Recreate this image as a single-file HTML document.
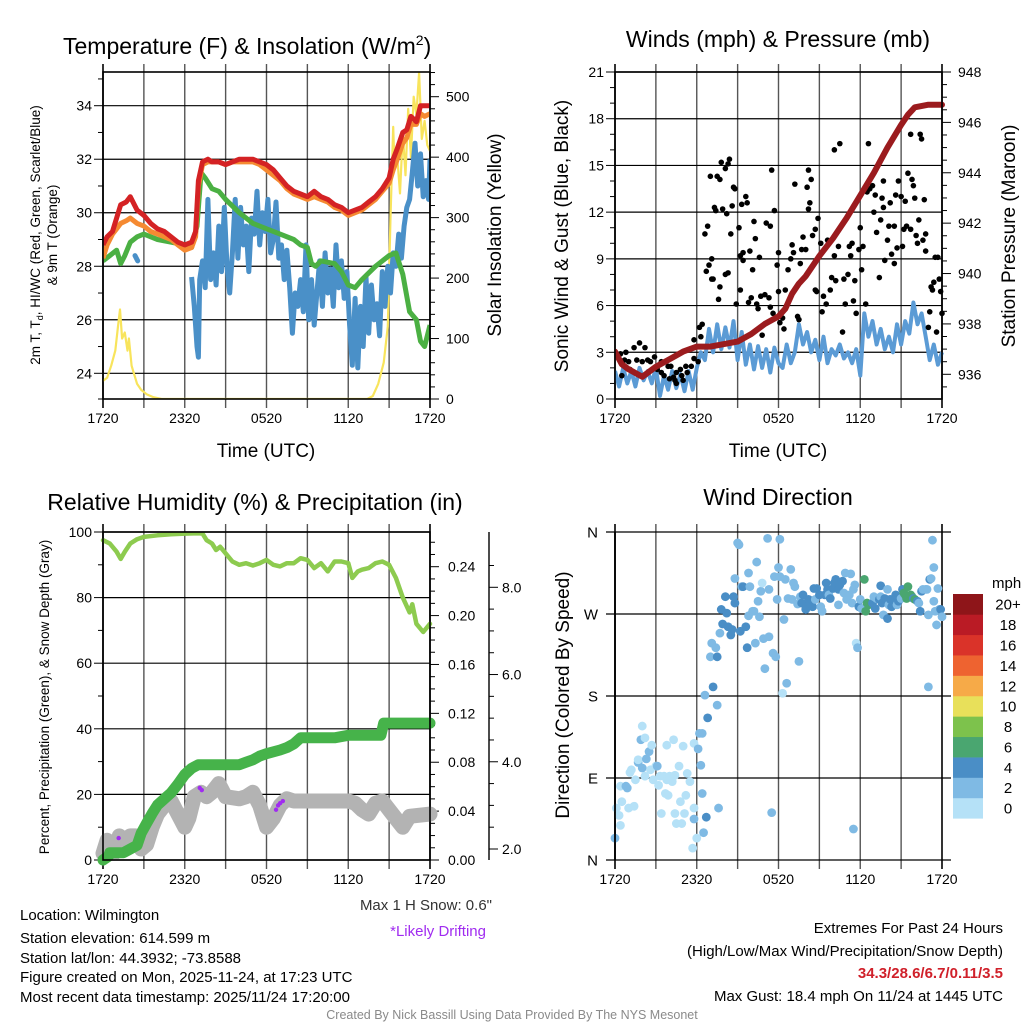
<!DOCTYPE html>
<html><head><meta charset="utf-8"><style>
html,body{margin:0;padding:0;background:#fff;}
svg{display:block;font-family:"Liberation Sans",Arial,sans-serif;}
</style></head><body>
<svg id="fig" width="1024" height="1024" viewBox="0 0 1024 1024" xmlns="http://www.w3.org/2000/svg">
<rect width="1024" height="1024" fill="#fff"/>
</svg>
<script>
// ---------- DATA ----------
const timeLabels = ["1720","2320","0520","1120","1720"];
// Panel 1
const tH = [0,0.3,0.7,1,1.3,1.7,2,2.5,3,3.5,4,4.5,5,5.5,6,6.5,6.8,7,7.3,7.7,8,8.5,9,9.5,10,10.5,11,11.5,12,12.5,13,13.5,14,14.5,15,15.5,16,16.5,17,17.5,18,18.5,19,19.5,20,20.5,21,21.3,21.6,22,22.3,22.6,23,23.3,23.6,24];
const tempRed = [28.8,29.1,29.3,29.8,30.3,30.4,30.6,30.1,29.9,29.6,29.4,29.3,29.1,28.9,28.8,28.9,29.3,31.2,31.9,32,31.9,31.9,31.8,31.9,32,32,32,31.9,31.8,31.6,31.3,31,30.8,30.7,30.6,30.8,30.6,30.5,30.3,30.2,30.0,30.1,30.2,30.4,30.6,30.9,31.3,32.0,32.4,33.0,33.1,33.6,33.4,34.0,34.0,34.0];
const temp9m = [28.3,28.8,29.2,29.4,29.6,29.7,29.8,29.6,29.5,29.3,29.2,29.1,29.0,28.8,28.6,28.7,29.1,31.0,31.8,31.9,31.9,31.9,31.8,31.9,31.9,31.9,31.9,31.8,31.6,31.4,31.2,30.9,30.7,30.6,30.5,30.6,30.5,30.4,30.2,30.1,29.9,30.0,30.1,30.3,30.5,30.8,31.1,31.6,32.0,32.6,32.8,33.3,33.3,33.7,33.6,33.7];
const dewH = [0,0.5,1,1.3,1.6,2,2.5,3,3.5,4,5,6,6.5,6.9,7.2,7.5,8,8.5,9,10,11,12,13,14,14.5,15,15.3,15.6,16,17,17.5,18,18.5,19,20,21,21.5,22,22.5,23,23.3,23.6,24];
const dewG = [28.2,28.4,28.6,28.1,28.4,28.9,29.1,29.2,29.1,29.0,28.9,28.8,28.7,29.5,31.5,31.3,30.9,30.8,30.5,30.0,29.6,29.4,29.2,29.0,28.8,28.7,28.1,28.0,28.2,28.1,27.8,27.3,27.2,27.5,28.0,28.4,28.5,27.7,26.3,26.0,25.2,25.0,25.8];
const wcH = [6.5,6.7,6.9,7.0,7.1,7.3,7.5,7.7,7.9,8.1,8.3,8.5,8.7,8.9,9.1,9.3,9.5,9.7,9.9,10.1,10.3,10.5,10.7,10.9,11.1,11.3,11.5,11.7,11.9,12.1,12.3,12.5,12.7,12.9,13.1,13.3,13.5,13.7,13.9,14.1,14.3,14.5,14.7,14.9,15.1,15.3,15.5,15.7,15.9,16.1,16.3,16.5,16.7,16.9,17.1,17.3,17.5,17.7,17.9,18.1,18.3,18.5,18.7,18.9,19.1,19.3,19.5,19.7,19.9,20.1,20.3,20.5,20.7,20.9,21.1,21.3,21.5,21.7,21.9,22.1,22.3,22.5,22.7,22.9,23.1,23.3,23.5,23.7,23.9,24];
const wcB = [27.6,26.5,25.0,24.6,27.5,28.2,27.2,30.5,27.5,28.5,27.3,29.5,27.8,30.2,28.0,27.0,28.5,30.5,28.3,30.2,28.8,29.5,27.8,29.8,29.2,30.8,28.8,30.0,29.3,30.5,28.5,29.0,30.4,28.3,28.8,27.5,28.6,27.2,25.5,27.0,26.5,27.5,26.3,28.8,26.0,27.5,25.8,27.0,28.2,26.5,28.5,27.0,27.9,26.5,28.8,27.2,28.2,26.8,27.8,25.8,24.3,26.8,24.2,26.5,25.0,27.6,25.5,27.3,26.0,26.6,25.4,27.8,26.5,28.0,27.0,28.5,28.0,29.2,28.3,29.5,30.2,30.5,31.5,32.6,31.0,32.2,30.6,31.2,30.5,32.0];
const wcEarlyH = [2.35,2.55];
const wcEarlyB = [28.4,28.2];
const solH = [0,0.3,0.6,0.9,1.1,1.25,1.4,1.6,1.8,1.9,2.1,2.3,2.5,2.8,3.2,3.7,4.3,5,19.4,19.8,20.2,20.6,20.9,21.1,21.3,21.4,21.6,21.8,22.0,22.2,22.4,22.6,22.8,23.0,23.2,23.4,23.6,23.8,24];
const solV = [30,35,55,80,120,148,100,110,80,100,55,40,25,15,8,3,0,0,0,5,25,60,120,300,450,380,400,340,440,370,480,400,500,470,540,430,460,420,410];
// Panel 2
const presH = [0,0.5,1,2,3,4,5,6,7,8,9,10,11,12,12.5,13,13.5,14,15,16,17,18,19,20,21,21.5,22,23,24];
const presV = [936.9,936.4,936.2,935.9,936.3,936.6,936.9,937.1,937.1,937.2,937.3,937.6,938.0,938.3,938.6,939.2,939.6,939.9,940.7,941.4,942.2,943.1,944.0,945.0,945.9,946.3,946.6,946.7,946.7];
const windH = [0,0.3,0.6,0.9,1.2,1.5,1.8,2.1,2.4,2.7,3,3.3,3.6,3.9,4.2,4.5,4.8,5.1,5.4,5.7,6,6.3,6.6,6.9,7.2,7.5,7.8,8.1,8.4,8.7,9,9.3,9.6,9.9,10.2,10.5,10.8,11.1,11.4,11.7,12,12.3,12.6,12.9,13.2,13.5,13.8,14.1,14.4,14.7,15,15.3,15.6,15.9,16.2,16.5,16.8,17.1,17.4,17.7,18,18.3,18.6,18.9,19.2,19.5,19.8,20.1,20.4,20.7,21,21.3,21.6,21.9,22.2,22.5,22.8,23.1,23.4,23.7,24];
const windV = [1.8,0.8,2.0,1.0,1.8,0.8,2.0,1.2,1.8,1.0,2.0,0.2,1.5,0.6,1.8,0.7,1.6,0.5,1.8,0.6,2.0,3.0,2.5,4.5,3.0,4.8,3.2,4.6,3.3,5.0,2.5,4.3,2.2,3.5,1.9,3.4,2.0,3.2,1.7,3.3,2.3,2.0,3.5,2.3,3.0,4.8,3.5,4.3,3.0,3.8,2.5,4.0,2.3,3.2,2.8,3.5,2.6,3.0,2.3,3.2,1.5,5.5,4.0,5.0,3.5,4.5,3.2,4.0,3.0,4.8,3.5,5.0,4.2,6.2,4.8,5.5,4.0,2.5,3.5,2.2,3.0];
const gustH = [0,0.4,0.5,0.8,1.0,1.4,1.8,1.6,2.0,2.2,2.4,2.6,2.9,3.1,3.4,3.6,3.9,4.0,4.3,4.4,4.5,4.8,4.9,5.2,5.3,5.6,5.8,5.8,6.1,6.2,6.3,6.4,0.7,1.1,0.5,3.4,4.5,5.0,4.1,
6.6,6.8,6.7,6.9,7.1,7.0,7.1,7.2,7.3,7.4,7.5,7.6,7.7,7.7,7.8,7.9,8.1,8.2,8.3,8.4,8.1,8.3,8.5,8.6,8.7,8.8,8.9,9.1,9.2,9.2,9.3,9.4,9.4,9.6,9.7,9.8,9.9,10,10.1,10.2,10.3,10.4,10.5,10.6,10.7,10.8,11,11.1,11.3,11.4,11.4,11.5,11.6,11.7,11.9,12,12,12.1,12.3,12.4,12.5,12.7,12.9,13,13.1,13.2,13.4,13.5,13.6,13.7,13.8,14,14.1,14.2,14.2,14.3,14.4,14.5,14.7,14.7,14.8,14.9,15.1,15.2,15.3,15.5,15.6,15.8,15.9,16.1,16.1,16.2,16.4,16.5,16.7,16.8,16.9,17.1,17.2,17.3,17.4,17.5,17.6,17.7,17.9,18,18.1,18.2,18.4,18.5,18.6,18.7,18.9,19,19.1,19.2,19.4,19.5,19.6,19.7,19.7,19.8,20,20.1,20.2,20.3,20.5,20.5,20.6,20.7,20.8,21,21.1,21.2,21.3,21.4,21.5,21.7,21.7,21.8,21.9,22,22.1,22.2,22.3,22.4,22.5,22.6,22.7,22.8,22.8,23,23.1,23.2,23.3,23.4,23.5,23.6,23.7,23.8,23.9,24];
const gustV = [3.0,2.9,2.3,3.0,2.4,3.3,3.6,2.5,2.4,3.3,2.5,2.4,2.7,1.9,1.7,1.5,2.1,1.3,1.4,1.2,1.7,1.9,1.5,2.1,1.7,2.1,2.6,3.8,2.4,4.6,4.0,4.8,2.5,1.9,1.5,2.4,1.0,1.2,2.1,
10.6,11.1,8.2,8.6,9.0,14.3,7.7,7.7,12.3,12.1,14.3,6.4,7.2,14.1,15.2,12.2,14.8,11.9,15.1,15.4,8.0,8.1,10.6,12.4,13.6,13.5,6.1,11.0,9.2,7.0,12.5,8.9,9.4,13.0,12.6,6.2,9.5,6.5,8.3,11.4,10.3,6.1,5.8,9.1,6.6,4.1,6.7,11.3,6.5,11.1,5.9,14.7,5.5,12.1,8.6,9.4,6.9,4.9,5.2,4.5,7.0,8.3,9.0,9.9,9.4,13.8,5.3,5.1,8.7,9.6,10.4,9.6,13.6,12.2,14.7,12.6,14.1,10.5,10.9,7.0,6.9,11.6,10.0,5.6,6.6,6.1,10.2,7.0,7.8,16.0,9.2,7.6,9.8,16.4,4.3,7.7,6.1,8.0,9.8,9.2,10.0,6.3,7.6,5.5,9.6,11.0,8.3,9.8,6.1,13.3,16.4,13.5,13.7,12.0,13.1,10.7,7.8,11.5,12.9,12.3,14.0,8.9,10.2,11.1,12.6,9.3,8.7,11.1,13.1,9.7,14.0,13.0,9.8,10.9,12.7,11.1,14.5,10.9,17.0,14.1,13.7,12.9,10.5,10.0,11.5,17.0,16.7,10.2,12.8,10.6,9.5,4.6,5.6,7.2,7.0,7.5,9.1,4.3,9.1,7.7,6.9,5.5];
// Panel 3
const rhH = [0,0.5,1,1.3,1.6,2,2.5,3,4,5,6,7,7.3,7.6,8,8.3,8.6,9,9.5,10,10.5,11,11.5,12,12.5,13,13.5,14,14.5,15,15.5,16,16.5,17,17.5,18,18.3,18.7,19,19.5,20,20.5,21,21.5,22,22.5,22.7,23,23.5,24];
const rhV = [97.5,96.5,94,91.8,94,96.5,97.8,98.5,99,99.3,99.5,99.6,99.5,97.5,96.5,94.5,95.5,93.5,91,90,90.5,89.8,90.5,91.5,90,89.5,90.5,90.5,92,91.5,89,90.5,88,91,91,90.5,86,88,88.5,89,90.5,91,90,86,80,75.5,78,72,69.5,72];
const prH = [0,0.4,0.5,1.5,2,2.5,2.8,3.2,3.6,4,4.5,5,5.5,6,6.5,7,9,10,10.5,11,11.5,12,13,13.5,14,14.5,15,17,17.5,18,20.4,20.6,24];
const prV = [0,0.003,0.006,0.006,0.009,0.012,0.022,0.03,0.038,0.045,0.05,0.055,0.062,0.07,0.075,0.078,0.078,0.078,0.080,0.082,0.085,0.087,0.090,0.092,0.095,0.100,0.100,0.100,0.101,0.102,0.102,0.112,0.112];
const snH = [0,0.3,0.8,1.2,1.6,2,2.4,2.8,3.2,3.6,4,4.5,5,5.5,6,6.3,6.7,7.2,7.6,8,8.5,9,10,10.5,11,11.5,12,12.5,13,13.5,14,18,18.5,19,19.5,20,20.5,21,21.5,22,22.5,24];
const snV = [1.9,2.2,1.9,2.3,2.2,2.3,2.3,2.0,2.1,2.5,2.8,3.0,3.1,2.8,2.5,2.7,3.2,3.3,3.2,3.3,3.5,3.2,3.15,3.2,3.3,3.0,2.5,2.7,3.0,3.15,3.1,3.1,3.05,2.9,2.8,3.05,3.1,2.9,2.7,2.5,2.75,2.8];
const driftH = [1.15,7.1,7.25,12.7,12.85,13.0,13.2];
const driftV = [2.25,3.4,3.35,2.9,3.0,3.05,3.1];
// Panel 4
const dirH = [0,0.1,0.3,0.4,0.5,0.4,0.8,0.9,1.0,1.1,1.2,1.4,1.5,1.7,1.7,1.9,2.0,2.0,2.2,2.2,2.3,2.5,2.6,2.7,2.8,3.0,3.1,3.2,3.3,3.4,3.6,3.7,3.8,3.8,3.9,4.0,4.2,4.3,4.4,4.4,4.5,4.7,4.8,4.9,5.0,5.1,5.2,5.3,5.5,5.7,5.8,5.8,5.8,6.0,6.1,6.2,6.3,6.4,6.4,6.5,6.6,6.7,6.8,7.0,7.1,7.2,7.4,7.5,7.5,7.6,7.7,7.8,7.9,8.1,8.2,8.3,8.5,8.6,8.7,8.8,8.8,9.0,9.1,9.2,9.3,9.4,9.6,9.7,9.8,9.8,9.9,10.1,10.2,10.3,10.4,10.5,10.6,10.7,10.8,10.9,11.0,11.2,11.3,11.3,11.5,11.6,11.7,11.8,11.9,12.0,12.1,12.1,12.3,12.4,12.5,12.6,12.7,12.9,13.0,13.1,13.2,13.4,13.5,13.6,13.7,13.8,14.0,14.1,14.2,14.3,14.5,14.6,14.7,14.8,15.0,15.1,15.2,15.4,15.5,15.6,15.7,15.8,16.0,16.1,16.2,16.4,16.4,16.5,16.7,16.8,16.9,17.0,17.2,17.3,17.4,17.5,17.6,17.7,17.8,17.5,17.9,18.0,18.1,18.3,18.4,18.5,18.6,18.9,19.0,19.1,19.2,19.4,19.5,19.5,19.6,19.7,19.8,20.0,20.0,20.1,20.2,20.3,20.5,20.6,20.7,20.8,21.0,21.1,21.2,21.3,21.4,21.5,21.7,21.8,21.9,22.0,22.2,22.3,22.4,22.5,22.6,22.8,22.9,23.0,23.0,23.1,23.2,23.3,23.4,23.4,23.5,23.6,23.7,23.8,23.9,24];
const dirDeg = [24,57,49,81,64,38,81,79,57,96,99,59,88,107,110,132,147,101,134,92,111,119,99,126,88,103,103,82,92,51,92,73,126,88,71,92,86,132,51,93,40,103,64,40,125,51,71,95,86,13,57,45,128,24,122,139,104,139,73,30,181,47,156,223,238,190,233,223,170,57,249,275,259,289,271,256,247,253,289,282,309,348,346,251,300,300,256,233,268,315,300,273,273,238,327,284,267,295,304,243,210,353,297,245,52,227,311,223,286,321,352,311,183,264,308,194,287,319,286,304,300,281,218,289,282,291,275,278,286,282,278,298,286,298,291,278,273,291,304,297,291,287,298,304,308,280,297,302,306,293,315,286,291,314,282,297,302,238,233,34,278,286,276,308,273,282,280,282,289,276,287,286,289,301,282,269,287,297,265,280,286,278,287,291,280,284,287,297,293,291,287,300,291,289,287,286,284,282,273,295,297,297,297,269,190,308,309,351,284,321,273,258,298,275,275,267];
const dirSpd = [3,1,1,1,1,1,3,3,1,1,1,1,1,3,1,3,1,3,1,1,3,3,1,1,1,1,3,1,1,1,1,1,1,1,1,1,1,1,1,1,1,1,1,1,1,1,1,1,1,1,1,3,1,1,3,3,3,3,3,3,3,5,5,3,3,5,3,5,3,3,3,5,5,5,5,5,5,5,5,5,3,3,3,5,3,5,5,5,3,3,3,3,3,3,3,3,3,3,1,3,3,3,3,3,3,3,3,3,3,3,3,3,1,3,3,3,3,3,3,3,3,3,3,3,5,5,5,5,5,5,5,5,3,5,5,3,3,5,5,5,3,5,5,5,5,3,5,5,5,3,3,3,3,3,3,3,3,1,3,3,5,3,3,7,7,7,7,5,3,5,3,5,3,5,5,3,5,3,5,3,5,5,5,5,3,5,3,5,7,7,7,7,7,7,5,7,5,3,5,5,3,3,3,3,3,5,3,3,3,3,3,3,3,3,5,3,3,3,3,5,3,3,3,3];
const cbLabels = ["0","2","4","6","8","10","12","14","16","18","20+"];
const cbColors = ["#b5e1f7","#7fbae4","#4a8ec6","#4aa670","#7dc24c","#e8e05a","#f6aa48","#ee6330","#da3329","#ba1b25","#8e1519"];

// ---------- HELPERS ----------
const NS="http://www.w3.org/2000/svg";
const svg=document.getElementById('fig');
function el(tag,attrs,parent){const e=document.createElementNS(NS,tag);for(const k in attrs)e.setAttribute(k,attrs[k]);(parent||svg).appendChild(e);return e;}
function txt(s,x,y,size,anchor,parent,extra){const t=el('text',Object.assign({x:x,y:y,'font-size':size,'text-anchor':anchor||'start',fill:'#000'},extra||{}),parent);t.textContent=s;return t;}
function lin(d0,d1,p0,p1){return v=>p0+(v-d0)/(d1-d0)*(p1-p0);}
function pathD(xs,ys,fx,fy){let d='';for(let i=0;i<xs.length;i++){d+=(i?'L':'M')+fx(xs[i]).toFixed(1)+','+fy(ys[i]).toFixed(1);}return d;}

const L=103,R=430,T=72,B=399;
const L2=615,R2=942;
const T3=532,B3=860;

function timeAxis(g,x0,x1,yTop,yBot,name){
  const fx=lin(0,24,x0,x1);
  for(let h=0;h<=24;h+=3){
    const x=fx(h);
    const gl=el('line',{x1:x,x2:x,y1:yTop-8,y2:yBot+9,stroke:(h===0||h===24)?'#000':'#555','stroke-width':(h===0||h===24)?1.6:1.4},g);
    
    
  }
  for(let i=0;i<timeLabels.length;i++){
    const t=txt(timeLabels[i],fx(i*6),yBot+24,14,'middle',g);
    
    
  }
  return fx;
}
function yTicks(g,x,fy,d0,d1,major,minor,side,fmt,labelX,grid,gx0,gx1,name){
  const n=Math.round((d1-d0)/minor);
  for(let k=0;k<=n;k++){
    const v=d0+k*minor;
    const isMaj=Math.abs(v/major-Math.round(v/major))<1e-6;
    const len=isMaj?9:5;
    el('line',{x1:x,x2:side==='l'?x-len:x+len,y1:fy(v),y2:fy(v),stroke:'#000','stroke-width':1},g);
    if(isMaj){
      if(grid) el('line',{x1:gx0,x2:gx1,y1:fy(v),y2:fy(v),stroke:'#000','stroke-width':1.2},g);
      const t=txt(fmt(v),labelX,fy(v)+5,14,side==='l'?'end':'start',g);
      
      
    }
  }
}
function rotText(s,x,y,size,g,name){
  const t=txt(s,x,y,size,'middle',g,{transform:'rotate(-90 '+x+' '+y+')'});
  
  
  return t;
}

// ---------- PANEL 1 ----------
(function(){
  const g=el('g',{});
  
  
  const fx=timeAxis(g,L,R,T,B,'temp');
  const fy=lin(24,34,373.3,105.7);
  const fs=lin(0,500,399,96.7);
  yTicks(g,L,fy,24,35,2,1,'l',v=>String(Math.round(v)),92,true,L,R,'temp-y');
  el('line',{x1:L,x2:L-5,y1:fy(23.04),y2:fy(23.04),stroke:'#000','stroke-width':1},g);
  yTicks(g,R,fs,0,540,100,20,'r',v=>String(Math.round(v)),446,false,0,0,'solar-y');
  const clip=el('clipPath',{id:'c1'},g);el('rect',{x:L,y:T,width:R-L,height:B-T},clip);
  const pg=el('g',{'clip-path':'url(#c1)'},g);
  const sol=el('path',{d:pathD(solH,solV,fx,fs),fill:'none',stroke:'#f8e45c','stroke-width':2.2,'stroke-linejoin':'round'},pg);
  
  
  const wc=el('path',{d:pathD(wcH,wcB,fx,fy),fill:'none',stroke:'#4a90c8','stroke-width':5,'stroke-linejoin':'round'},pg);
  
  
  const wce=el('path',{d:pathD(wcEarlyH,wcEarlyB,fx,fy),fill:'none',stroke:'#4a90c8','stroke-width':5,'stroke-linecap':'round'},pg);
  
  
  const dw=el('path',{d:pathD(dewH,dewG,fx,fy),fill:'none',stroke:'#4bb043','stroke-width':5,'stroke-linejoin':'round'},pg);
  
  
  const t9=el('path',{d:pathD(tH,temp9m,fx,fy),fill:'none',stroke:'#f58a32','stroke-width':5,'stroke-linejoin':'round'},pg);
  
  
  const t2=el('path',{d:pathD(tH,tempRed,fx,fy),fill:'none',stroke:'#d42224','stroke-width':5,'stroke-linejoin':'round'},pg);
  
  
  el('rect',{x:L,y:T,width:R-L,height:B-T,fill:'none',stroke:'#000','stroke-width':1.6},g);
  const title=txt('Temperature (F) & Insolation (W/m',63,54,23,'start',g);
  const sup=el('tspan',{dy:-9,'font-size':14},title);sup.textContent='2';
  const cl=el('tspan',{dy:9},title);cl.textContent=')';
  
  
  const xt=txt('Time (UTC)',266,457,19,'middle',g);
  
  
  const yl=txt('',40,235,13.5,'middle',g,{transform:'rotate(-90 40 235)'});
  yl.innerHTML='2m T, T<tspan font-size="9" dy="3">d</tspan><tspan dy="-3">, HI/WC (Red, Green, Scarlet/Blue)</tspan>';
  
  
  rotText('& 9m T (Orange)',57,235,13.5,g,'temp-y-axis-title-line2');
  rotText('Solar Insolation (Yellow)',501,235,19,g,'solar-y-axis-title');
})();

// ---------- PANEL 2 ----------
(function(){
  const g=el('g',{});
  
  
  const fx=timeAxis(g,L2,R2,T,B,'wind');
  const fy=lin(0,21,B,T);
  const fp=lin(936,948,374.3,T);
  yTicks(g,L2,fy,0,21,3,1,'l',v=>String(Math.round(v)),604,true,L2,R2,'wind-y');
  yTicks(g,R2,fp,935.5,948,2,0.5,'r',v=>String(Math.round(v)),958,false,0,0,'pressure-y');
  const clip=el('clipPath',{id:'c2'},g);el('rect',{x:L2,y:T-5,width:R2-L2+6,height:B-T+5},clip);
  const pg=el('g',{'clip-path':'url(#c2)'},g);
  const w=el('path',{d:pathD(windH,windV,fx,fy),fill:'none',stroke:'#5b9bd5','stroke-width':4,'stroke-linejoin':'round'},pg);
  
  
  for(let i=0;i<gustH.length;i++){
    const c=el('circle',{cx:fx(gustH[i]),cy:fy(gustV[i]),r:2.8,fill:'#000'},pg);
    
    
  }
  const p=el('path',{d:pathD(presH,presV,fx,fp),fill:'none',stroke:'#9b1b1e','stroke-width':6,'stroke-linejoin':'round','stroke-linecap':'round'},pg);
  
  
  el('rect',{x:L2,y:T,width:R2-L2,height:B-T,fill:'none',stroke:'#000','stroke-width':1.6},g);
  const title=txt('Winds (mph) & Pressure (mb)',778,47,23,'middle',g);
  
  
  const xt=txt('Time (UTC)',778,457,19,'middle',g);
  
  
  rotText('Sonic Wind & Gust (Blue, Black)',568,236,19,g,'wind-y-axis-title');
  rotText('Station Pressure (Maroon)',1015,236,19,g,'pressure-y-axis-title');
})();

// ---------- PANEL 3 ----------
(function(){
  const g=el('g',{});
  
  
  const fx=timeAxis(g,L,R,T3,B3,'rh');
  const fy=lin(0,100,B3,T3);
  const fpr=lin(0,0.24,B3,566.7);
  const fsn=lin(2,8,849,587.3);
  yTicks(g,L,fy,0,100,20,10,'l',v=>String(Math.round(v)),92,true,L,R,'rh-y');
  yTicks(g,R,fpr,0,0.26,0.04,0.01,'r',v=>v.toFixed(2),448,false,0,0,'precip-y');
  el('line',{x1:489,x2:489,y1:T3,y2:B3,stroke:'#000','stroke-width':1.4},g);
  yTicks(g,489,fsn,2,8.5,2,0.5,'r',v=>v.toFixed(1),502,false,0,0,'snow-y');
  const clip=el('clipPath',{id:'c3'},g);el('rect',{x:L-12,y:T3,width:R-L+24,height:B3-T3+12},clip);
  const pg=el('g',{'clip-path':'url(#c3)'},g);
  const sn=el('path',{d:pathD(snH,snV,fx,fsn),fill:'none',stroke:'#b3b3b3','stroke-width':15,'stroke-linejoin':'round','stroke-linecap':'round'},pg);
  
  
  for(let i=0;i<driftH.length;i++){
    const c=el('circle',{cx:fx(driftH[i]),cy:fsn(driftV[i]),r:2.2,fill:'#a02cf0'},pg);
    
    
  }
  const pr=el('path',{d:pathD(prH,prV,fx,fpr),fill:'none',stroke:'#46b34a','stroke-width':11,'stroke-linejoin':'round','stroke-linecap':'round'},pg);
  
  
  const rh=el('path',{d:pathD(rhH,rhV,fx,fy),fill:'none',stroke:'#8dcb4f','stroke-width':4.5,'stroke-linejoin':'round','stroke-linecap':'round'},pg);
  
  
  el('rect',{x:L,y:T3,width:R-L,height:B3-T3,fill:'none',stroke:'#000','stroke-width':1.6},g);
  const title=txt('Relative Humidity (%) & Precipitation (in)',255,510,23,'middle',g);
  
  
  rotText('Percent, Precipitation (Green), & Snow Depth (Gray)',49,697,13.5,g,'rh-y-axis-title');
  const s1=txt('Max 1 H Snow: 0.6"',492,910,15,'end',g,{fill:'#333'});
  
  
  const s2=txt('*Likely Drifting',486,936,15,'end',g,{fill:'#a02cf0'});
  
  
})();

// ---------- PANEL 4 ----------
(function(){
  const g=el('g',{});
  
  
  const fx=timeAxis(g,L2,R2,T3,B3,'dir');
  const fy=lin(0,360,B3,T3);
  const dl=['N','E','S','W','N'];
  for(let i=0;i<5;i++){
    const y=fy(i*90);
    el('line',{x1:L2-9,x2:R2+9,y1:y,y2:y,stroke:'#000','stroke-width':1.2},g);
    const t=txt(dl[i],598,y+5.5,15,'end',g);
    
    
  }
  function col(s){if(s===undefined)s=3;let k=Math.floor(s/2);if(k>10)k=10;return cbColors[k];}
  for(let i=0;i<dirH.length;i++){
    const c=el('circle',{cx:fx(dirH[i]),cy:fy(dirDeg[i]),r:4.4,fill:col(dirSpd[i])},g);
    
    
  }
  el('line',{x1:L2,x2:L2,y1:T3,y2:B3,stroke:'#000','stroke-width':1.8},g);
  const title=txt('Wind Direction',778,505,23,'middle',g);
  
  
  rotText('Direction (Colored By Speed)',569,695,19,g,'direction-y-axis-title');
  const bh=(818.3-594)/cbColors.length;
  for(let i=0;i<cbColors.length;i++){
    const y=818.3-(i+1)*bh;
    const r=el('rect',{x:953,y:y,width:30,height:bh+0.3,fill:cbColors[i]},g);
    
    
    const t=txt(cbLabels[i],1008,y+bh/2+5.5,15,'middle',g);
    
    
  }
  const m=txt('mph',992,588,15,'start',g);
  
  
})();

// ---------- FOOTER ----------
(function(){
  const g=el('g',{});
  
  
  const lines=['Location: Wilmington','Station elevation: 614.599 m','Station lat/lon: 44.3932; -73.8588','Figure created on Mon, 2025-11-24, at 17:23 UTC','Most recent data timestamp: 2025/11/24 17:20:00'];
  const ys=[920,943,963,982,1002];
  for(let i=0;i<lines.length;i++){
    const t=txt(lines[i],20,ys[i],15,'start',g);
    
    
  }
  const e1=txt('Extremes For Past 24 Hours',1003,933,15,'end',g);
  
  
  const e2=txt('(High/Low/Max Wind/Precipitation/Snow Depth)',1003,956,15,'end',g);
  
  
  const e3=txt('34.3/28.6/6.7/0.11/3.5',1003,978,15,'end',g,{fill:'#d0202a','font-weight':'bold'});
  
  
  const e4=txt('Max Gust: 18.4 mph On 11/24 at 1445 UTC',1003,1001,15,'end',g);
  
  
  const c=txt('Created By Nick Bassill Using Data Provided By The NYS Mesonet',512,1019,12.5,'middle',g,{fill:'#8a8a8a'});
  
  
})();
</script>
</body></html>
